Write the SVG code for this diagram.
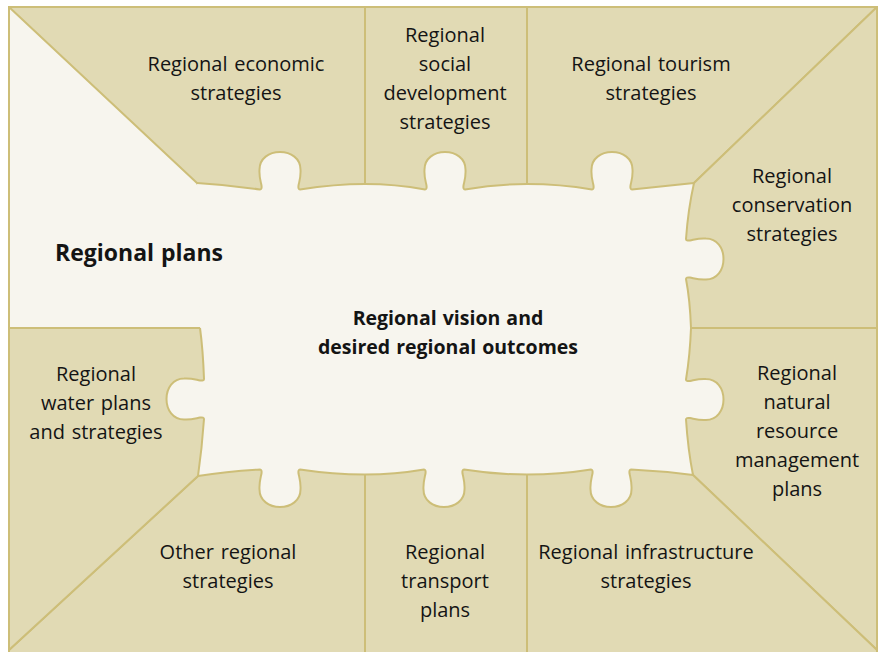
<svg xmlns="http://www.w3.org/2000/svg" width="880" height="652" viewBox="0 0 880 652">
  <style>
    .bg { fill: #f7f5ee; stroke: #cdbe78; stroke-width: 2; }
    .piece { fill: #e1dab4; stroke: #cdbe78; stroke-width: 2; stroke-linejoin: round; }
    .vfill { fill: #f7f5ee; stroke: none; }
    .vline { fill: none; stroke: #cdbe78; stroke-width: 2; stroke-linejoin: round; }
    text { font-family: "Open Sans", "Noto Sans", sans-serif; font-size: 20px; fill: #141414; text-anchor: middle; word-spacing: 1.5px; }
    .bold { font-weight: bold; font-size: 19.5px; word-spacing: 1px; }
  </style>
  <defs>
    <path id="vision-outline" d="M 197,183 Q 230,185 260,189.5 Q 262,189.5 261.5,185.5 C 260.5,180.5 259,176.5 259.5,169.5 C 259.5,158.5 269,152 280,152 C 291,152 300.5,158.5 300.5,169.5 C 301,176.5 299.5,180.5 298.5,185.5 Q 298,189.5 300,189.5 Q 335,184 365,184 Q 395,184 425,189.5 Q 427,189.5 426.5,185.5 C 425.5,180.5 424,176.5 424.5,169.5 C 424.5,158.5 434,152 445,152 C 456,152 465.5,158.5 465.5,169.5 C 466,176.5 464.5,180.5 463.5,185.5 Q 463,189.5 465,189.5 Q 496,184 527,184 Q 560,184 592,189.5 Q 594,189.5 593.5,185.5 C 592.5,180.5 591,176.5 591.5,169.5 C 591.5,158.5 601,152 612,152 C 623,152 632.5,158.5 632.5,169.5 C 633,176.5 631.5,180.5 630.5,185.5 Q 630,189.5 632,189.5 Q 665,186 694,183 Q 688,210 686,239 Q 686,241 690,240.5 C 695,239.5 699,238 706,238.5 C 717,238.5 723.5,248 723.5,259 C 723.5,270 717,279.5 706,279.5 C 699,280 695,278.5 690,277.5 Q 686,277 686,279 Q 690,300 691,328 Q 690,355 686,379.5 Q 686,381.5 690,381 C 695,380 699,378.5 706,379 C 717,379 723.5,388.5 723.5,399.5 C 723.5,410.5 717,420 706,420 C 699,420.5 695,419 690,418 Q 686,417.5 686,419.5 Q 688,450 693,475 Q 662,471 631,469.5 Q 629,469.5 629.5,473.5 C 630.5,478.5 632,482.5 631.5,489.5 C 631.5,500.5 622,507 611,507 C 600,507 590.5,500.5 590.5,489.5 C 590,482.5 591.5,478.5 592.5,473.5 Q 593,469.5 591,469.5 Q 560,474.5 527,474.5 Q 495,474.5 464,469.5 Q 462,469.5 462.5,473.5 C 463.5,478.5 465,482.5 464.5,489.5 C 464.5,500.5 455,507 444,507 C 433,507 423.5,500.5 423.5,489.5 C 423,482.5 424.5,478.5 425.5,473.5 Q 426,469.5 424,469.5 Q 395,474.5 365,474.5 Q 333,474.5 300,469.5 Q 298,469.5 298.5,473.5 C 299.5,478.5 301,482.5 300.5,489.5 C 300.5,500.5 291,507 280,507 C 269,507 259.5,500.5 259.5,489.5 C 259,482.5 260.5,478.5 261.5,473.5 Q 262,469.5 260,469.5 Q 228,471 198,476 Q 202,448 204,419 Q 204,417 200,417.5 C 195,418.5 191,420 184,419.5 C 173,419.5 166.5,410 166.5,399 C 166.5,388 173,378.5 184,378.5 C 191,378 195,379.5 200,380.5 Q 204,381 204,379 Q 203,350 200,328"/>
  </defs>

  <rect id="plans-background" class="bg" x="9" y="7" width="868" height="650"/>

  <g id="economic">
    <path class="piece" d="M 9,7 L 365,7 L 365,215 L 215,215 L 197,183 Z"/>
    <text x="236" y="71">Regional economic</text>
    <text x="236" y="100">strategies</text>
  </g>

  <g id="social">
    <path class="piece" d="M 365,7 L 527,7 L 527,215 L 365,215 Z"/>
    <text x="445" y="42">Regional</text>
    <text x="445" y="71">social</text>
    <text x="445" y="100">development</text>
    <text x="445" y="129">strategies</text>
  </g>

  <g id="tourism">
    <path class="piece" d="M 527,7 L 877,7 L 694,183 L 680,215 L 527,215 Z"/>
    <text x="651" y="71">Regional tourism</text>
    <text x="651" y="100">strategies</text>
  </g>

  <g id="conservation">
    <path class="piece" d="M 694,183 L 877,7 L 877,328 L 670,328 L 670,215 Z"/>
    <text x="792" y="183">Regional</text>
    <text x="792" y="212">conservation</text>
    <text x="792" y="241">strategies</text>
  </g>

  <g id="natural-resource">
    <path class="piece" d="M 670,328 L 877,328 L 877,650 L 693,475 L 670,460 Z"/>
    <text x="797" y="380">Regional</text>
    <text x="797" y="409">natural</text>
    <text x="797" y="438">resource</text>
    <text x="797" y="467">management</text>
    <text x="797" y="496">plans</text>
  </g>

  <g id="infrastructure">
    <path class="piece" d="M 693,475 L 877,650 L 877,657 L 527,657 L 527,450 L 680,450 Z"/>
    <text x="646" y="559">Regional infrastructure</text>
    <text x="646" y="588">strategies</text>
  </g>

  <g id="transport">
    <path class="piece" d="M 365,450 L 527,450 L 527,657 L 365,657 Z"/>
    <text x="445" y="559">Regional</text>
    <text x="445" y="588">transport</text>
    <text x="445" y="617">plans</text>
  </g>

  <g id="other">
    <path class="piece" d="M 198,476 L 9,650 L 9,657 L 365,657 L 365,450 L 215,450 Z"/>
    <text x="228" y="559">Other regional</text>
    <text x="228" y="588">strategies</text>
  </g>

  <g id="water">
    <path class="piece" d="M 9,328 L 200,328 L 220,340 L 220,460 L 198,476 L 9,650 Z"/>
    <text x="96" y="381">Regional</text>
    <text x="96" y="410">water plans</text>
    <text x="96" y="439">and strategies</text>
  </g>

  <g id="regional-vision">
    <use href="#vision-outline" class="vfill"/>
    <use href="#vision-outline" class="vline"/>
    <text class="bold" x="448" y="325">Regional vision and</text>
    <text class="bold" x="448" y="354">desired regional outcomes</text>
  </g>

  <g id="regional-plans">
    <text class="bold" x="55" y="261" style="text-anchor:start;font-size:23px">Regional plans</text>
  </g>
</svg>
